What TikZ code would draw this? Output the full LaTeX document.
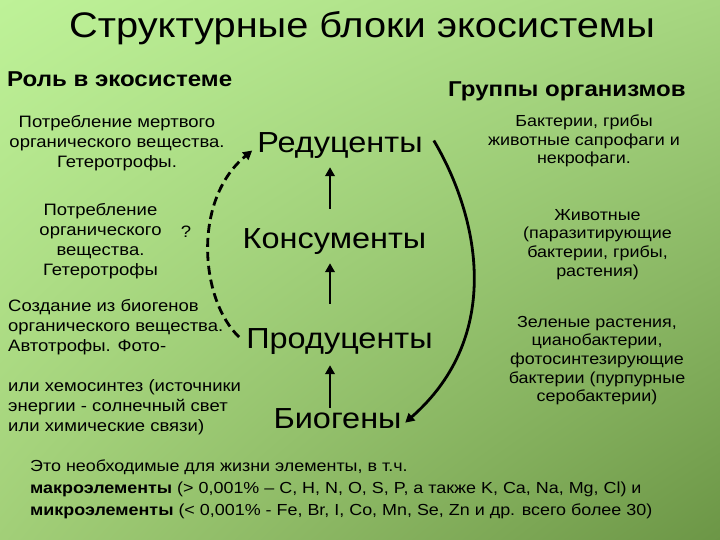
\documentclass[tikz,border=0pt]{standalone}
\usepackage{fontspec}
\setmainfont{Liberation Sans}[FakeStretch=1.12]
\usetikzlibrary{
    arrows.meta,
    positioning,
    shadings
}
\definecolor{bg top left}{RGB}{190,242,152}
\definecolor{bg top right}{RGB}{166,214,128}
\definecolor{bg bottom left}{RGB}{162,207,120}
\definecolor{bg bottom right}{RGB}{108,150,70}
\tikzset{
    % Texts
    title text/.style={font=\fontsize{35.5}{40}\selectfont,anchor=base,inner sep=0pt},
    head text/.style={font=\bfseries\fontsize{21.5}{24}\selectfont,anchor=base west,inner sep=0pt},
    level/.style={font=\fontsize{29}{32}\selectfont,anchor=base,inner sep=0pt},
    small text/.style={font=\fontsize{16.5}{20}\selectfont,inner sep=0pt},
    role text/.style={small text,align=center},
    role left/.style={small text,align=left,anchor=north west},
    group text/.style={font=\fontsize{16}{18.7}\selectfont,inner sep=0pt,align=center},
    %
    % Arrows
    arrow tip/.tip={Triangle[length=9pt,width=9.5pt]},
    arr/.style={-{arrow tip},line width=2.8pt},
    dash arr/.style={arr,dash pattern=on 9pt off 5pt},
}

\begin{document}
\begin{tikzpicture}[x=1pt,y=-1pt]
        \shade[upper left=bg top left,upper right=bg top right,
            lower left=bg bottom left,lower right=bg bottom right] (0,0) rectangle (720,540);
        \useasboundingbox (0,0) rectangle (720,540);
        \node[title text] (title) at (362,38) {Структурные блоки экосистемы};
        \node[head text] (role) at (7,87) {Роль в экосистеме};
        \node[head text] (groups) at (448,97) {Группы организмов};
        % levels
        \coordinate (ax) at (330,0);
        \node[level] (red) at (340,153) {Редуценты};
        \node[level] (kons) at (334.5,248) {Консументы};
        \node[level] (prod) at (339.5,348) {Продуценты};
        \node[level] (biog) at (337.5,428) {Биогены};
        \draw[arr,shorten <=19pt,shorten >=8pt] (kons.north -| ax) -- (red.south -| ax);
        \draw[arr,shorten <=24pt,shorten >=9pt] (prod.north -| ax) -- (kons.south -| ax);
        \draw[arr,shorten >=11pt] (biog.north -| ax) -- (prod.south -| ax);
        \draw[dash arr] ([xshift=-7pt,yshift=4pt]prod.west) .. controls (200,300) and (192,200) .. ([xshift=-5pt,yshift=-4.5pt]red.west);
        \draw[arr] ([xshift=11pt,yshift=5.5pt]red.east) .. controls (478,215) and (505,335) .. ([xshift=3.5pt,yshift=-4.5pt]biog.east);
        % roles
        \node[role text] (dead) at (117,143) {Потребление мертвого\\органического вещества.\\Гетеротрофы.};
        \node[role text] (cons) at (100.5,241) {Потребление\\органического\\вещества.\\Гетеротрофы};
        \node[small text] (quest) at (186,232) {?};
        \node[role left] (auto) at (8,299) {Создание из биогенов\\органического вещества.\\Автотрофы. Фото-};
        \node[role left] (chem) at (8,379) {или хемосинтез (источники\\энергии - солнечный свет\\или химические связи)};
        % groups
        \node[group text] (bact) at (584,141) {Бактерии, грибы\\животные сапрофаги и\\некрофаги.};
        \node[group text] (anim) at (597.5,244.5) {Животные\\(паразитирующие\\бактерии, грибы,\\растения)};
        \node[group text] (plant) at (597,360.5) {Зеленые растения,\\цианобактерии,\\фотосинтезирующие\\бактерии (пурпурные\\серобактерии)};
        % biogens
        \node[role left,font=\fontsize{16}{22}\selectfont] (elem) at (30,460) {Это необходимые для жизни элементы, в т.ч.\\
            \textbf{макроэлементы} (> 0,001\% – C, H, N, O, S, P, а также K, Ca, Na, Mg, Cl) и\\
            \textbf{микроэлементы} (< 0,001\% - Fe, Br, I, Co, Mn, Se, Zn и др. всего более 30)};
    \end{tikzpicture}
\end{document}
